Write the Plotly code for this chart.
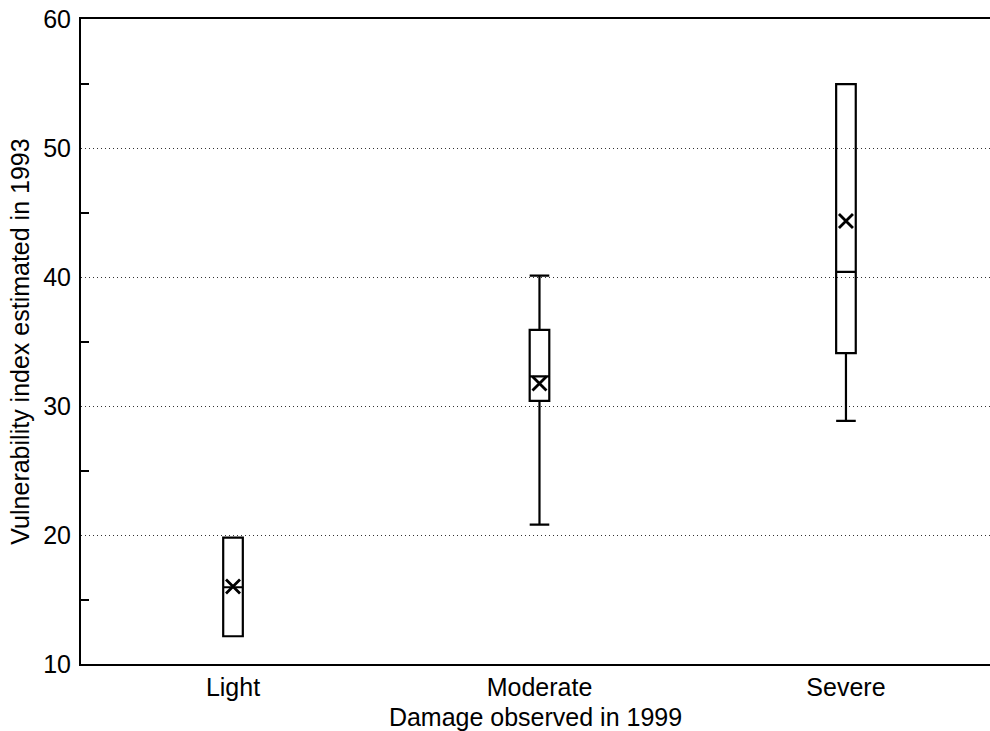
import plotly.graph_objects as go

# Vulnerability index (1993) summarised per damage class observed in 1999
categories = ["Light", "Moderate", "Severe"]
q1 = [12.15, 30.4, 34.1]
median = [15.95, 32.3, 40.4]
q3 = [19.8, 35.9, 54.95]
lower_whisker = [12.15, 20.8, 28.85]
upper_whisker = [19.8, 40.1, 54.95]
mean = [16.0, 31.75, 44.35]

y_ticks = [10, 20, 30, 40, 50, 60]

FONT = "Liberation Sans, Arial, sans-serif"
SIZE = 25

fig = go.Figure()

fig.add_trace(go.Box(
    x=categories,
    q1=q1,
    median=median,
    q3=q3,
    lowerfence=lower_whisker,
    upperfence=upper_whisker,
    width=0.064,
    whiskerwidth=1,
    fillcolor="rgba(255,255,255,0)",
    line=dict(color="black", width=2.2),
    boxpoints=False,
    showlegend=False,
    hoverinfo="skip",
))

fig.add_trace(go.Scatter(
    x=categories,
    y=mean,
    mode="markers",
    marker=dict(symbol="x-thin", size=14, color="black",
                line=dict(color="black", width=2.8)),
    showlegend=False,
    hoverinfo="skip",
))

fig.update_layout(
    width=990,
    height=731,
    margin=dict(l=81, r=0, t=19, b=67),
    paper_bgcolor="white",
    plot_bgcolor="white",
    font=dict(family=FONT, size=SIZE, color="black"),
    xaxis=dict(
        range=[-0.496, 2.47],
        showline=True,
        linecolor="black",
        linewidth=2,
        mirror=True,
        showgrid=False,
        ticks="",
        ticklabelstandoff=0,
        tickfont=dict(size=SIZE),
        title=dict(text="Damage observed in 1999", font=dict(size=SIZE), standoff=8),
        zeroline=False,
    ),
    yaxis=dict(
        range=[10, 60],
        tickvals=y_ticks,
        showline=True,
        linecolor="black",
        linewidth=2,
        mirror=False,
        showgrid=True,
        gridcolor="#333333",
        gridwidth=1,
        griddash="1px,3px",
        ticks="",
        ticklabelstandoff=3,
        tickfont=dict(size=SIZE),
        minor=dict(ticks="inside", ticklen=8, tickwidth=1.5, tickcolor="black",
                   tick0=15, dtick=10, showgrid=False),
        title=dict(text="Vulnerability index estimated in 1993", font=dict(size=SIZE), standoff=6),
        zeroline=False,
    ),
)

fig.write_html("out.html")
